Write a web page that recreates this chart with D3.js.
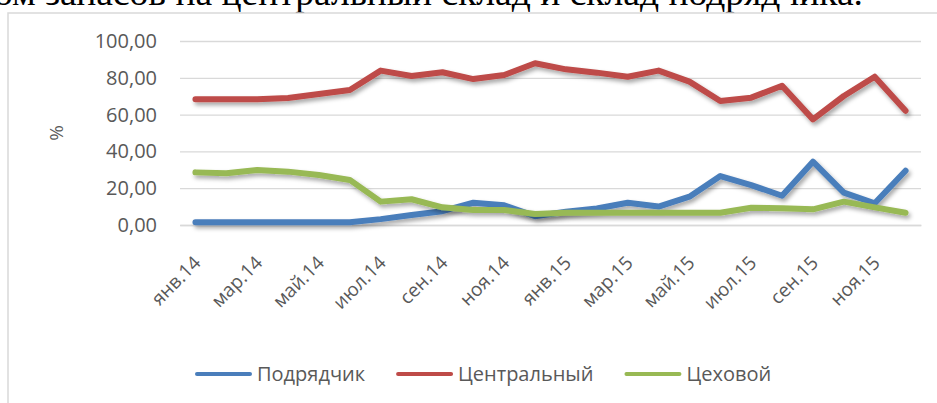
<!DOCTYPE html>
<html>
<head>
<meta charset="utf-8">
<script src="https://cdn.jsdelivr.net/npm/d3@7"></script>
<style>
  body { margin:0; background:#fff; }
  svg { display:block; }
  .tick text { fill:#595959; font-family:"Open Sans", sans-serif; }
</style>
</head>
<body>
<div id="canvas"></div>
<script>
// data
var months = ['янв.14','фев.14','мар.14','апр.14','май.14','июн.14','июл.14','авг.14','сен.14','окт.14','ноя.14','дек.14',
              'янв.15','фев.15','мар.15','апр.15','май.15','июн.15','июл.15','авг.15','сен.15','окт.15','ноя.15','дек.15'];
var seriesNames = ['Подрядчик','Центральный','Цеховой'];
var podryadchik = [1.5,1.5,1.5,1.5,1.5,1.5,3.2,5.4,7.5,12.1,10.7,4.8,7.2,9.0,12.1,10.0,15.4,26.6,21.7,15.9,34.4,17.6,11.8,29.5];
var centralny   = [68.3,68.3,68.3,69.0,71.2,73.4,83.9,81.0,83.0,79.3,81.5,87.9,84.6,82.8,80.6,83.9,77.9,67.4,69.2,75.7,57.4,70.1,80.6,62.1];
var tsekhovoy   = [28.6,28.1,29.9,29.0,27.2,24.5,12.7,14.0,9.6,8.2,8.2,6.0,6.7,6.7,6.7,6.7,6.7,6.7,9.4,9.1,8.5,12.7,9.6,6.7];
var yTicks = [0,20,40,60,80,100];
var xTickLabels = ['янв.14','мар.14','май.14','июл.14','сен.14','ноя.14','янв.15','мар.15','май.15','июл.15','сен.15','ноя.15'];
var colors = ['#4a7ebb','#be4b48','#98b954'];

var W = 937, H = 403;
var m = {t:41, r:16, b:178, l:180};
var w = W - m.l - m.r, h = H - m.t - m.b;

var svg = d3.select('#canvas').append('svg')
  .attr('width', W).attr('height', H);

var defs = svg.append('defs');
var f = defs.append('filter').attr('id','shadow')
  .attr('x','-5%').attr('y','-20%').attr('width','110%').attr('height','140%');
f.append('feDropShadow').attr('dx',2).attr('dy',3).attr('stdDeviation',2)
  .attr('flood-color','#000').attr('flood-opacity',0.35);

// caption fragment above the chart (cut off at top)
svg.append('text')
  .attr('x', -6).attr('y', 5)
  .attr('textLength', 869)
  .attr('lengthAdjust', 'spacingAndGlyphs')
  .style('font-family','"Liberation Serif", "Times New Roman", serif')
  .style('font-size','36px')
  .style('fill','#000')
  .text('ом запасов на центральный склад и склад подрядчика.');

// chart border
svg.append('rect')
  .attr('x', 8).attr('y', 13).attr('width', 960).attr('height', 420)
  .attr('fill','none').attr('stroke','#d9d9d9').attr('stroke-width',1.5);

var plot = svg.append('g').attr('transform','translate(' + m.l + ',' + m.t + ')');

var x = d3.scalePoint().domain(months).range([0, w]).padding(0.5);
var y = d3.scaleLinear().domain([0,100]).range([h, 0]);

// y axis with gridlines
var axisY = d3.axisLeft(y)
  .tickValues(yTicks)
  .tickSize(-w)
  .tickPadding(23)
  .tickFormat(function(d){ return d.toFixed(2).replace('.', ','); });
var gy = plot.append('g').attr('class','yAxis').call(axisY);
gy.select('.domain').remove();
gy.selectAll('.tick line').attr('stroke','#d9d9d9').attr('stroke-width',1.3);
gy.selectAll('.tick text').style('font-size','20px');

// x axis
var axisX = d3.axisBottom(x)
  .tickValues(xTickLabels)
  .tickSize(0);
var gx = plot.append('g').attr('class','xAxis')
  .attr('transform','translate(0,' + h + ')')
  .call(axisX);
gx.select('.domain').attr('stroke','#d9d9d9').attr('stroke-width',1.5);
gx.selectAll('.tick text')
  .style('font-size','19px')
  .attr('text-anchor','end')
  .attr('dy', 0)
  .attr('y', 0)
  .attr('transform','translate(6,39) rotate(-45)');

// y title
svg.append('text')
  .attr('transform','translate(63,133) rotate(-90)')
  .attr('text-anchor','middle')
  .style('font-family','"Open Sans", sans-serif')
  .style('font-size','19px')
  .style('fill','#595959')
  .text('%');

// lines
var series = [podryadchik, centralny, tsekhovoy];
var line = d3.line()
  .x(function(d,i){ return x(months[i]); })
  .y(function(d){ return y(d); });

plot.selectAll('path.series')
  .data(series)
  .enter()
  .append('path')
  .attr('class','series')
  .attr('d', line)
  .attr('fill','none')
  .attr('stroke', function(d,i){ return colors[i]; })
  .attr('stroke-width', 6)
  .attr('stroke-linejoin','round')
  .attr('stroke-linecap','round')
  .attr('filter','url(#shadow)');

// legend
var legend = svg.append('g').attr('transform','translate(197,374)');
var lx = 0;
seriesNames.forEach(function(name, i){
  var g = legend.append('g').attr('transform','translate(' + lx + ',0)');
  g.append('line')
    .attr('x1',0).attr('x2',53).attr('y1',0).attr('y2',0)
    .attr('stroke', colors[i]).attr('stroke-width',4).attr('stroke-linecap','round');
  var t = g.append('text')
    .attr('x', 60).attr('y', 0).attr('dy','0.35em')
    .style('font-family','"Open Sans", sans-serif')
    .style('font-size','20px')
    .style('fill','#595959')
    .text(name);
  lx += 60 + t.node().getComputedTextLength() + 33;
});
</script>
</body>
</html>
